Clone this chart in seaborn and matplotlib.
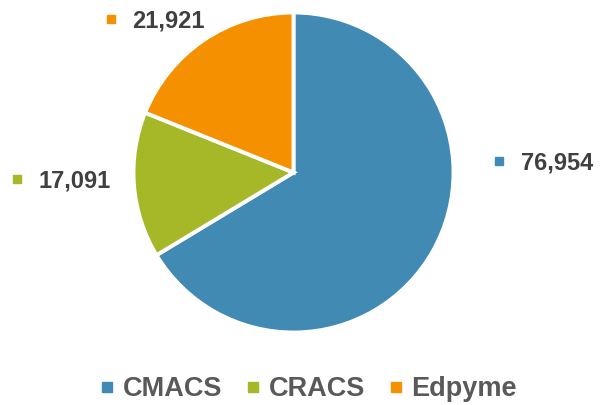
"""Pie chart of portfolio size by institution type."""

import matplotlib

matplotlib.use("Agg")
import matplotlib.pyplot as plt
import seaborn as sns
from matplotlib.lines import Line2D

categories = ["CMACS", "CRACS", "Edpyme"]
values = [76954, 17091, 21921]
colors = ["#418AB3", "#A6B727", "#F59100"]

sns.set_style("white")
plt.rcParams["font.family"] = ["Liberation Sans", "DejaVu Sans"]

W, H = 601, 405
fig = plt.figure(figsize=(W / 100, H / 100), dpi=100)

# pie centre and radius in pixels
cx, cy, r = 293.5, 172.5, 160
ax = fig.add_axes([(cx - r) / W, (H - cy - r) / H, 2 * r / W, 2 * r / H])
ax.pie(
    values,
    colors=colors,
    startangle=90,
    counterclock=False,
    wedgeprops=dict(edgecolor="white", linewidth=2.8),
)
ax.set_xlim(-1, 1)
ax.set_ylim(-1, 1)
ax.set_aspect("equal")

# value labels: (square x, text x, y) in pixels
label_pos = {"CMACS": (499, 521, 163), "CRACS": (17, 39, 181), "Edpyme": (111, 132, 21)}
for cat, val, col in zip(categories, values, colors):
    sx, tx, y = label_pos[cat]
    fig.add_artist(
        Line2D([sx / W], [1 - (y - 2) / H], marker="s", markersize=6, color=col,
               linestyle="none", transform=fig.transFigure)
    )
    fig.text(tx / W, 1 - y / H, f"{val:,}", fontsize=17, fontweight="bold",
             color="#404040", va="center", ha="left")

handles = [
    Line2D([], [], marker="s", markersize=7.5, color=c, linestyle="none")
    for c in colors
]
fig.legend(
    handles,
    categories,
    loc="center",
    bbox_to_anchor=(309 / W, 1 - 389 / H),
    ncol=3,
    frameon=False,
    handlelength=0.45,
    handletextpad=0.35,
    columnspacing=0.92,
    prop=dict(size=19.5, weight="bold"),
    labelcolor="#595959",
)

fig.savefig("out.png", dpi=100)
